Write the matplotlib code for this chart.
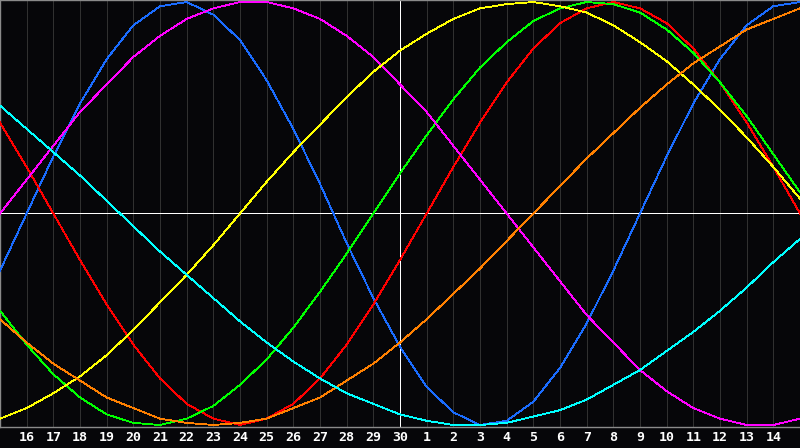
import matplotlib
matplotlib.use("Agg")
import matplotlib.pyplot as plt

# Etiquetas de los días (del 16 al 30 y del 1 al 14)
dias = [16, 17, 18, 19, 20, 21, 22, 23, 24, 25, 26, 27, 28, 29, 30,
        1, 2, 3, 4, 5, 6, 7, 8, 9, 10, 11, 12, 13, 14]

# Valores diarios de cada ciclo (del día 15 al día 15 siguiente)
fisico = [-0.27, 0.00, 0.27, 0.52, 0.73, 0.89, 0.98, 1.00, 0.94, 0.82, 0.63,
          0.40, 0.14, -0.14, -0.40, -0.63, -0.82, -0.94, -1.00, -0.98, -0.89,
          -0.73, -0.52, -0.27, 0.00, 0.27, 0.52, 0.73, 0.89, 0.98, 1.00]
emocional = [0.43, 0.22, 0.00, -0.22, -0.43, -0.62, -0.78, -0.90, -0.97, -1.00,
             -0.97, -0.90, -0.78, -0.62, -0.43, -0.22, 0.00, 0.22, 0.43, 0.62,
             0.78, 0.90, 0.97, 1.00, 0.97, 0.90, 0.78, 0.62, 0.43, 0.22, 0.00]
intelectual = [-0.46, -0.62, -0.76, -0.87, -0.95, -0.99, -1.00, -0.97, -0.91,
               -0.81, -0.69, -0.54, -0.37, -0.19, 0.00, 0.19, 0.37, 0.54, 0.69,
               0.81, 0.91, 0.97, 1.00, 0.99, 0.95, 0.87, 0.76, 0.62, 0.46, 0.28,
               0.10]
intuitivo = [0.00, 0.16, 0.32, 0.48, 0.61, 0.74, 0.84, 0.92, 0.97, 1.00, 1.00,
             0.97, 0.92, 0.84, 0.74, 0.61, 0.48, 0.32, 0.16, 0.00, -0.16, -0.32,
             -0.48, -0.61, -0.74, -0.84, -0.92, -0.97, -1.00, -1.00, -0.97]
estetico = [-0.97, -0.92, -0.85, -0.77, -0.67, -0.55, -0.42, -0.29, -0.15, 0.00,
            0.15, 0.29, 0.42, 0.55, 0.67, 0.77, 0.85, 0.92, 0.97, 0.99, 1.00,
            0.98, 0.95, 0.89, 0.81, 0.72, 0.61, 0.49, 0.36, 0.22, 0.07]
conciencia = [-0.50, -0.61, -0.71, -0.79, -0.87, -0.92, -0.97, -0.99, -1.00,
              -0.99, -0.97, -0.92, -0.87, -0.79, -0.71, -0.61, -0.50, -0.38,
              -0.26, -0.13, 0.00, 0.13, 0.26, 0.38, 0.50, 0.61, 0.71, 0.79, 0.87,
              0.92, 0.97]
espiritual = [0.51, 0.40, 0.29, 0.18, 0.06, -0.06, -0.18, -0.29, -0.40, -0.51,
              -0.61, -0.70, -0.78, -0.85, -0.90, -0.95, -0.98, -1.00, -1.00,
              -0.99, -0.96, -0.93, -0.88, -0.81, -0.74, -0.65, -0.56, -0.46,
              -0.35, -0.23, -0.12]

fondo = '#060609'
fig = plt.figure(figsize=(8, 4.48), dpi=100, facecolor=fondo)
ax = fig.add_axes([0, 21 / 448, 1, 427 / 448], facecolor=fondo)

x = list(range(len(fisico)))

# Rejilla vertical gris, día actual y eje central en blanco
for i in range(1, 30):
    if i != 15:
        ax.axvline(i, color='#303030', linewidth=0.6, antialiased=False, zorder=1)
ax.axvline(15, color='white', linewidth=0.6, antialiased=False, zorder=2)
ax.axhline(0, color='white', linewidth=0.6, antialiased=False, zorder=2)

series = [
    (fisico, '#1a6cff'),
    (emocional, '#ff0000'),
    (intelectual, '#00ff00'),
    (intuitivo, '#ff00ff'),
    (estetico, '#ffff00'),
    (conciencia, '#ff8000'),
    (espiritual, '#00ffff'),
]
for valores, color in series:
    ax.plot(x, valores, color=color, linewidth=0.6, antialiased=False, zorder=3)

ax.set_xlim(0, 30)
ax.set_ylim(-1.0095, 1.0095)
ax.set_yticks([])
ax.set_xticks(range(1, 30))
ax.set_xticklabels([str(d) for d in dias], color='white', fontsize=9.5,
                   fontweight='bold', family='DejaVu Sans Mono')
ax.tick_params(axis='x', length=0, pad=3)

for lado in ['left', 'top', 'bottom']:
    ax.spines[lado].set_color('#8a8a8a')
    ax.spines[lado].set_linewidth(1)
ax.spines['right'].set_visible(False)

fig.savefig('out.png', dpi=100, facecolor=fondo)
